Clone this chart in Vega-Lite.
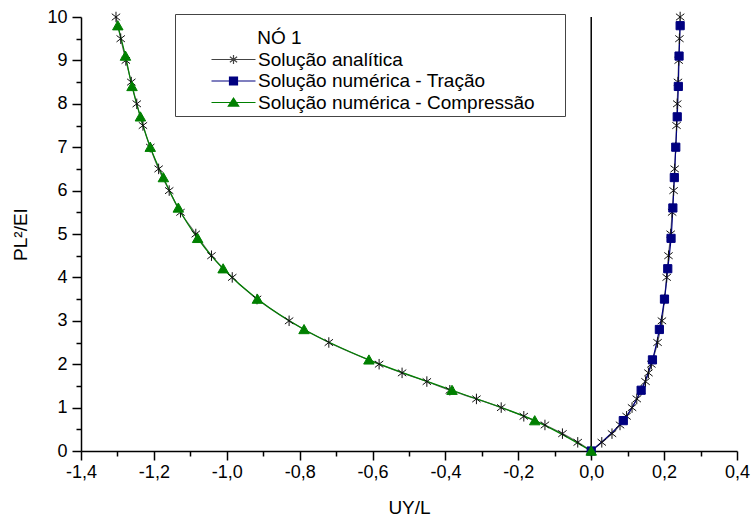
{
  "$schema": "https://vega.github.io/schema/vega-lite/v6.json",
  "width": 656,
  "height": 434,
  "autosize": {"type": "none"},
  "padding": {"left": 81, "top": 17, "right": 16, "bottom": 69},
  "background": "white",
  "config": {
    "view": {"stroke": null},
    "font": "Liberation Sans",
    "axis": {
      "grid": false,
      "domainColor": "black",
      "domainWidth": 1.5,
      "tickColor": "black",
      "tickWidth": 1.5,
      "labelColor": "black",
      "labelFont": "Liberation Sans",
      "labelFontSize": 18,
      "titleFont": "Liberation Sans",
      "titleFontSize": 19,
      "titleFontWeight": "normal",
      "titleColor": "black"
    }
  },
  "datasets": {
    "pts": [
      {"s": "Solução analítica", "b": "L", "x": 0, "y": 0},
      {"s": "Solução analítica", "b": "L", "x": -0.037, "y": 0.2},
      {"s": "Solução analítica", "b": "L", "x": -0.079, "y": 0.4},
      {"s": "Solução analítica", "b": "L", "x": -0.127, "y": 0.6},
      {"s": "Solução analítica", "b": "L", "x": -0.185, "y": 0.8},
      {"s": "Solução analítica", "b": "L", "x": -0.247, "y": 1.0},
      {"s": "Solução analítica", "b": "L", "x": -0.315, "y": 1.2},
      {"s": "Solução analítica", "b": "L", "x": -0.388, "y": 1.4},
      {"s": "Solução analítica", "b": "L", "x": -0.451, "y": 1.6},
      {"s": "Solução analítica", "b": "L", "x": -0.519, "y": 1.8},
      {"s": "Solução analítica", "b": "L", "x": -0.582, "y": 2.0},
      {"s": "Solução analítica", "b": "L", "x": -0.72, "y": 2.5},
      {"s": "Solução analítica", "b": "L", "x": -0.829, "y": 3.0},
      {"s": "Solução analítica", "b": "L", "x": -0.917, "y": 3.5},
      {"s": "Solução analítica", "b": "L", "x": -0.985, "y": 4.0},
      {"s": "Solução analítica", "b": "L", "x": -1.042, "y": 4.5},
      {"s": "Solução analítica", "b": "L", "x": -1.085, "y": 5.0},
      {"s": "Solução analítica", "b": "L", "x": -1.127, "y": 5.5},
      {"s": "Solução analítica", "b": "L", "x": -1.158, "y": 6.0},
      {"s": "Solução analítica", "b": "L", "x": -1.187, "y": 6.5},
      {"s": "Solução analítica", "b": "L", "x": -1.21, "y": 7.0},
      {"s": "Solução analítica", "b": "L", "x": -1.23, "y": 7.5},
      {"s": "Solução analítica", "b": "L", "x": -1.247, "y": 8.0},
      {"s": "Solução analítica", "b": "L", "x": -1.262, "y": 8.5},
      {"s": "Solução analítica", "b": "L", "x": -1.277, "y": 9.0},
      {"s": "Solução analítica", "b": "L", "x": -1.291, "y": 9.5},
      {"s": "Solução analítica", "b": "L", "x": -1.304, "y": 10.0},
      {"s": "Solução analítica", "b": "R", "x": 0, "y": 0},
      {"s": "Solução analítica", "b": "R", "x": 0.029, "y": 0.2},
      {"s": "Solução analítica", "b": "R", "x": 0.057, "y": 0.4},
      {"s": "Solução analítica", "b": "R", "x": 0.079, "y": 0.6},
      {"s": "Solução analítica", "b": "R", "x": 0.097, "y": 0.8},
      {"s": "Solução analítica", "b": "R", "x": 0.112, "y": 1.0},
      {"s": "Solução analítica", "b": "R", "x": 0.125, "y": 1.2},
      {"s": "Solução analítica", "b": "R", "x": 0.137, "y": 1.4},
      {"s": "Solução analítica", "b": "R", "x": 0.149, "y": 1.6},
      {"s": "Solução analítica", "b": "R", "x": 0.157, "y": 1.8},
      {"s": "Solução analítica", "b": "R", "x": 0.165, "y": 2.0},
      {"s": "Solução analítica", "b": "R", "x": 0.182, "y": 2.5},
      {"s": "Solução analítica", "b": "R", "x": 0.194, "y": 3.0},
      {"s": "Solução analítica", "b": "R", "x": 0.201, "y": 3.5},
      {"s": "Solução analítica", "b": "R", "x": 0.207, "y": 4.0},
      {"s": "Solução analítica", "b": "R", "x": 0.212, "y": 4.5},
      {"s": "Solução analítica", "b": "R", "x": 0.218, "y": 5.0},
      {"s": "Solução analítica", "b": "R", "x": 0.222, "y": 5.5},
      {"s": "Solução analítica", "b": "R", "x": 0.226, "y": 6.0},
      {"s": "Solução analítica", "b": "R", "x": 0.229, "y": 6.5},
      {"s": "Solução analítica", "b": "R", "x": 0.232, "y": 7.0},
      {"s": "Solução analítica", "b": "R", "x": 0.234, "y": 7.5},
      {"s": "Solução analítica", "b": "R", "x": 0.236, "y": 8.0},
      {"s": "Solução analítica", "b": "R", "x": 0.238, "y": 8.5},
      {"s": "Solução analítica", "b": "R", "x": 0.240, "y": 9.0},
      {"s": "Solução analítica", "b": "R", "x": 0.242, "y": 9.5},
      {"s": "Solução analítica", "b": "R", "x": 0.244, "y": 10.0},
      {"s": "Solução numérica - Tração", "b": "R", "x": 0, "y": 0},
      {"s": "Solução numérica - Tração", "b": "R", "x": 0.088, "y": 0.7},
      {"s": "Solução numérica - Tração", "b": "R", "x": 0.137, "y": 1.4},
      {"s": "Solução numérica - Tração", "b": "R", "x": 0.168, "y": 2.1},
      {"s": "Solução numérica - Tração", "b": "R", "x": 0.187, "y": 2.8},
      {"s": "Solução numérica - Tração", "b": "R", "x": 0.201, "y": 3.5},
      {"s": "Solução numérica - Tração", "b": "R", "x": 0.21, "y": 4.2},
      {"s": "Solução numérica - Tração", "b": "R", "x": 0.219, "y": 4.9},
      {"s": "Solução numérica - Tração", "b": "R", "x": 0.224, "y": 5.6},
      {"s": "Solução numérica - Tração", "b": "R", "x": 0.228, "y": 6.3},
      {"s": "Solução numérica - Tração", "b": "R", "x": 0.232, "y": 7.0},
      {"s": "Solução numérica - Tração", "b": "R", "x": 0.236, "y": 7.7},
      {"s": "Solução numérica - Tração", "b": "R", "x": 0.239, "y": 8.4},
      {"s": "Solução numérica - Tração", "b": "R", "x": 0.241, "y": 9.1},
      {"s": "Solução numérica - Tração", "b": "R", "x": 0.244, "y": 9.8},
      {"s": "Solução numérica - Compressão", "b": "L", "x": 0, "y": 0},
      {"s": "Solução numérica - Compressão", "b": "L", "x": -0.155, "y": 0.7},
      {"s": "Solução numérica - Compressão", "b": "L", "x": -0.382, "y": 1.4},
      {"s": "Solução numérica - Compressão", "b": "L", "x": -0.61, "y": 2.1},
      {"s": "Solução numérica - Compressão", "b": "L", "x": -0.788, "y": 2.8},
      {"s": "Solução numérica - Compressão", "b": "L", "x": -0.916, "y": 3.5},
      {"s": "Solução numérica - Compressão", "b": "L", "x": -1.01, "y": 4.2},
      {"s": "Solução numérica - Compressão", "b": "L", "x": -1.08, "y": 4.9},
      {"s": "Solução numérica - Compressão", "b": "L", "x": -1.133, "y": 5.6},
      {"s": "Solução numérica - Compressão", "b": "L", "x": -1.174, "y": 6.3},
      {"s": "Solução numérica - Compressão", "b": "L", "x": -1.21, "y": 7.0},
      {"s": "Solução numérica - Compressão", "b": "L", "x": -1.237, "y": 7.7},
      {"s": "Solução numérica - Compressão", "b": "L", "x": -1.26, "y": 8.4},
      {"s": "Solução numérica - Compressão", "b": "L", "x": -1.278, "y": 9.1},
      {"s": "Solução numérica - Compressão", "b": "L", "x": -1.299, "y": 9.8}
    ]
  },
  "data": {"name": "pts"},
  "layer": [
    {
      "data": {"values": [{"z": 0}]},
      "mark": {"type": "rule", "color": "black", "strokeWidth": 1.5},
      "encoding": {
        "x": {"field": "z", "type": "quantitative", "scale": {"domain": [-1.4, 0.4]}, "axis": null}
      }
    },
    {
      "mark": {"type": "line", "strokeWidth": 1.2, "interpolate": "catmull-rom"},
      "encoding": {
        "x": {
          "field": "x", "type": "quantitative",
          "scale": {"domain": [-1.4, 0.4], "nice": false, "zero": false},
          "axis": {
            "orient": "bottom",
            "values": [-1.4, -1.2, -1.0, -0.8, -0.6, -0.4, -0.2, 0, 0.2, 0.4],
            "labelExpr": "replace(replace(format(datum.value, '.1f'), '.', ','), '\u2212', '-')",
            "tickSize": 9,
            "labelPadding": 3,
            "labelFlush": false,
            "labelOverlap": false,
            "title": "UY/L",
            "titlePadding": 17
          }
        },
        "y": {
          "field": "y", "type": "quantitative",
          "scale": {"domain": [0, 10], "nice": false},
          "axis": {
            "orient": "left",
            "values": [0, 1, 2, 3, 4, 5, 6, 7, 8, 9, 10],
            "tickSize": 9,
            "labelPadding": 5,
            "labelFlush": false,
            "labelOverlap": false,
            "title": "PL²/EI",
            "titlePadding": 16
          }
        },
        "color": {
          "field": "s", "type": "nominal",
          "scale": {"domain": ["Solução analítica", "Solução numérica - Tração", "Solução numérica - Compressão"], "range": ["#666666", "#000080", "#008000"]},
          "legend": null
        },
        "detail": {"field": "b"},
        "order": {"field": "y", "type": "quantitative"}
      }
    },
    {
      "mark": {"type": "point", "opacity": 1, "size": 110, "strokeWidth": 1},
      "encoding": {
        "x": {
          "field": "x", "type": "quantitative",
          "scale": {"domain": [-1.4, 0.4], "nice": false, "zero": false},
          "axis": {
            "orient": "bottom",
            "values": [-1.3, -1.1, -0.9, -0.7, -0.5, -0.3, -0.1, 0.1, 0.3],
            "tickSize": 5,
            "labels": false,
            "domain": false,
            "title": null
          }
        },
        "y": {
          "field": "y", "type": "quantitative",
          "scale": {"domain": [0, 10], "nice": false},
          "axis": {
            "orient": "left",
            "values": [0.5, 1.5, 2.5, 3.5, 4.5, 5.5, 6.5, 7.5, 8.5, 9.5],
            "tickSize": 5,
            "labels": false,
            "domain": false,
            "title": null
          }
        },
        "shape": {
          "field": "s", "type": "nominal",
          "scale": {
            "domain": ["Solução analítica", "Solução numérica - Tração", "Solução numérica - Compressão"],
            "range": [
              "M0,-1V1M-0.8,-0.62L0.8,0.62M-0.8,0.62L0.8,-0.62",
              "M-0.78,-0.78H0.78V0.78H-0.78Z",
              "M0,-0.95L1,0.8H-1Z"
            ]
          },
          "legend": null
        },
        "fill": {
          "field": "s", "type": "nominal",
          "scale": {"domain": ["Solução analítica", "Solução numérica - Tração", "Solução numérica - Compressão"], "range": ["transparent", "#000080", "#008000"]},
          "legend": null
        },
        "stroke": {
          "field": "s", "type": "nominal",
          "scale": {"domain": ["Solução analítica", "Solução numérica - Tração", "Solução numérica - Compressão"], "range": ["#111111", "#000080", "#008000"]},
          "legend": null
        }
      }
    },
    {
      "transform": [{"filter": "datum.y > 100"}],
      "mark": {"type": "point", "opacity": 1, "size": 64, "strokeWidth": 1.2},
      "encoding": {
        "shape": {
          "field": "s", "type": "nominal",
          "scale": {
            "domain": ["Solução analítica", "Solução numérica - Tração", "Solução numérica - Compressão"],
            "range": [
              "M-5.5,0H5.5M0,-1.1V1.1M-0.9,-0.7L0.9,0.7M-0.9,0.7L0.9,-0.7",
              "M-5.5,0H5.5M-1,-1H1V1H-1Z",
              "M-5.5,0H5.5M0,-1.1L1.3,0.9H-1.3Z"
            ]
          },
          "legend": {
            "orient": "none",
            "legendX": 94,
            "legendY": -3,
            "title": "\u200b\u00a0\u00a0\u00a0\u00a0\u00a0\u00a0\u00a0\u00a0\u00a0\u00a0\u00a0\u00a0\u00a0\u00a0\u00a0NÓ 1",
            "titleFont": "Liberation Sans",
            "titleFontSize": 19,
            "titleFontWeight": "normal",
            "titleColor": "black",
            "titleBaseline": "line-top",
            "titleLineHeight": 42,
            "titlePadding": 14,
            "labelFont": "Liberation Sans",
            "labelFontSize": 19,
            "labelColor": "black",
            "labelLimit": 0,
            "labelExpr": "datum.label + '\u00a0\u00a0\u00a0\u00a0\u00a0\u200b'",
            "symbolSize": 64,
            "symbolOffset": 46,
            "labelOffset": 15,
            "rowPadding": 1.5,
            "padding": 3,
            "strokeColor": "#444444",
            "fillColor": "white",
            "symbolStrokeWidth": 1.2
          }
        },
        "fill": {
          "field": "s", "type": "nominal",
          "scale": {"domain": ["Solução analítica", "Solução numérica - Tração", "Solução numérica - Compressão"], "range": ["transparent", "#000080", "#008000"]}
        },
        "stroke": {
          "field": "s", "type": "nominal",
          "scale": {"domain": ["Solução analítica", "Solução numérica - Tração", "Solução numérica - Compressão"], "range": ["#444444", "#000080", "#008000"]}
        }
      }
    }
  ],
  "resolve": {
    "scale": {"shape": "independent", "fill": "independent", "stroke": "independent", "color": "independent"},
    "axis": {"x": "independent", "y": "independent"}
  }
}
